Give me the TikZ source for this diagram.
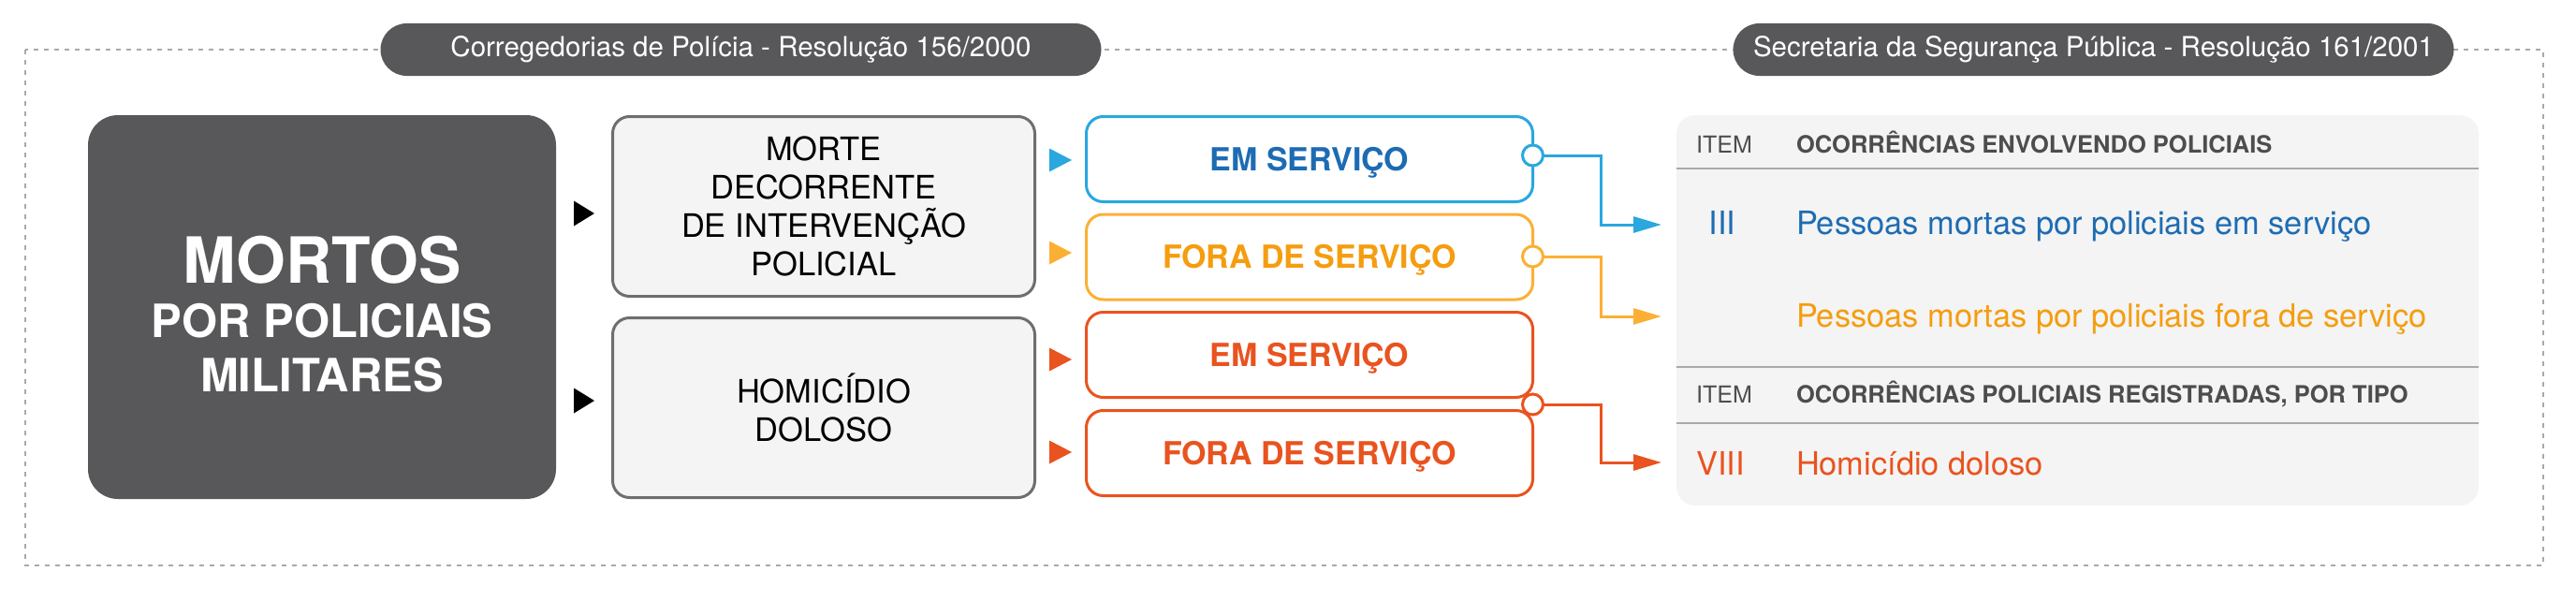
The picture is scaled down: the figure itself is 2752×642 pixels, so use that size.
\documentclass[tikz,border=0pt]{standalone}
\usepackage{fontspec}
\setmainfont{TeX Gyre Heros}
\usetikzlibrary{arrows.meta}
\definecolor{dk}{HTML}{58585A}
\definecolor{bx}{HTML}{F4F4F4}
\definecolor{bxline}{HTML}{6D6E70}
\definecolor{dashc}{HTML}{A7A9AC}
\definecolor{blueL}{HTML}{2AA7DF}
\definecolor{blueD}{HTML}{1D6CB3}
\definecolor{yelL}{HTML}{FBB034}
\definecolor{yelT}{HTML}{F59D0F}
\definecolor{rd}{HTML}{E9531F}
\definecolor{hdr}{HTML}{4D4D4F}
\tikzset{
  pill/.style={fill=dk, text=white, rounded corners=28pt, minimum width=770pt, minimum height=56pt, font=\fontsize{29.5}{34}\selectfont},
  bigbox/.style={fill=dk, rounded corners=32pt, minimum width=500pt, minimum height=410pt},
  graybox/.style={draw=bxline, line width=3pt, fill=bx, rounded corners=18pt, minimum width=451pt, minimum height=192pt, align=center, font=\fontsize{34.5}{41}\selectfont},
  cbox/.style={draw=#1, line width=3pt, fill=white, rounded corners=18pt, minimum width=477pt, minimum height=91pt, text height=24pt, text depth=0pt, font=\fontsize{34}{40}\selectfont\bfseries},
  circ/.style={circle, draw=#1, line width=3pt, fill=white, minimum size=22pt},
  conn/.style={draw=#1, line width=3pt, -{Triangle[length=30pt,width=17pt]}, #1},
  hitem/.style={anchor=base, text=hdr, font=\fontsize{25}{30}\selectfont},
  htitle/.style={anchor=base west, text=hdr, font=\fontsize{25.5}{30}\selectfont\bfseries},
  ritem/.style={anchor=base, font=\fontsize{34.4}{40}\selectfont},
  rtext/.style={anchor=base west, font=\fontsize{34.4}{40}\selectfont},
  sepline/.style={draw=dashc, line width=2pt},
}
\begin{document}
\begin{tikzpicture}[x=1pt, y=-1pt, every node/.style={inner sep=0pt, outer sep=0pt}]
\useasboundingbox (0,0) rectangle (2752,642);
% frame
\draw[dashc, line width=2pt, dash pattern=on 5pt off 6pt] (27,53) rectangle (2717,604);
% headers
\node[pill] (p1) at (791.5,53) {Corregedorias de Polícia - Resolução 156/2000};
\node[pill] (p2) at (2236.5,53) {Secretaria da Segurança Pública - Resolução 161/2001};
% main box
\node[bigbox] (m) at (344,328) {};
\node[align=center, text=white, font=\fontsize{49}{58}\selectfont\bfseries] (mt) at (344,336)
  {{\fontsize{68}{58}\selectfont MORTOS}\\POR POLICIAIS\\MILITARES};
% black markers
\fill (613,214.5) -- (635,228) -- (613,241.5) -- cycle;
\fill (613,414.5) -- (635,428) -- (613,441.5) -- cycle;
% gray boxes
\node[graybox] (g1) at (880,220.5) {MORTE\\DECORRENTE\\DE INTERVENÇÃO\\POLICIAL};
\node[graybox] (g2) at (880,435.5) {HOMICÍDIO\\DOLOSO};
% colored markers
\fill[blueL] (1121,158.5) -- (1145,171) -- (1121,183.5) -- cycle;
\fill[yelL] (1121,257.5) -- (1145,270) -- (1121,282.5) -- cycle;
\fill[rd] (1121,371.5) -- (1145,384) -- (1121,396.5) -- cycle;
\fill[rd] (1121,470.5) -- (1145,483) -- (1121,495.5) -- cycle;
% colored boxes
\node[cbox=blueL, text=blueD] (b1) at (1399,170) {EM SERVIÇO};
\node[cbox=yelL, text=yelT] (b2) at (1399,274.5) {FORA DE SERVIÇO};
\node[cbox=rd, text=rd] (b3) at (1399,379) {EM SERVIÇO};
\node[cbox=rd, text=rd] (b4) at (1399,484) {FORA DE SERVIÇO};
% right panel
\node[fill=bx, rounded corners=20pt, minimum width=857pt, minimum height=417pt] (panel) at (2219.5,331.5) {};
\draw[sepline] (panel.west |- 0,180) -- (panel.east |- 0,180);
\draw[sepline] (panel.west |- 0,392) -- (panel.east |- 0,392);
\draw[sepline] (panel.west |- 0,452) -- (panel.east |- 0,452);
\node[hitem] (i1) at (1842,163) {ITEM};
\node[htitle] (h1) at (1919,163) {OCORRÊNCIAS ENVOLVENDO POLICIAIS};
\node[ritem, text=blueD] (n3) at (1840,250) {III};
\node[rtext, text=blueD] (r1) at (1919,250) {Pessoas mortas por policiais em serviço};
\node[rtext, text=yelT] (r2) at (1919,349) {Pessoas mortas por policiais fora de serviço};
\node[hitem] (i2) at (1842,430) {ITEM};
\node[htitle] (h2) at (1919,430) {OCORRÊNCIAS POLICIAIS REGISTRADAS, POR TIPO};
\node[ritem, text=rd] (n8) at (1838,507) {VIII};
\node[rtext, text=rd] (r3) at (1919,507) {Homicídio doloso};
% connectors
\coordinate (t1) at (1775,240);
\coordinate (t2) at (1775,338);
\coordinate (t3) at (1775,494);
\node[circ=blueL] (k1) at (1637.5,166) {};
\node[circ=yelL] (k2) at (1637.5,274) {};
\node[circ=rd] (k3) at (1637.5,432) {};
\draw[conn=blueL] (k1.east) -- (1710,166) |- (t1);
\draw[conn=yelL] (k2.east) -- (1710,274) |- (t2);
\draw[conn=rd] (k3.east) -- (1710,432) |- (t3);
\end{tikzpicture}
\end{document}
